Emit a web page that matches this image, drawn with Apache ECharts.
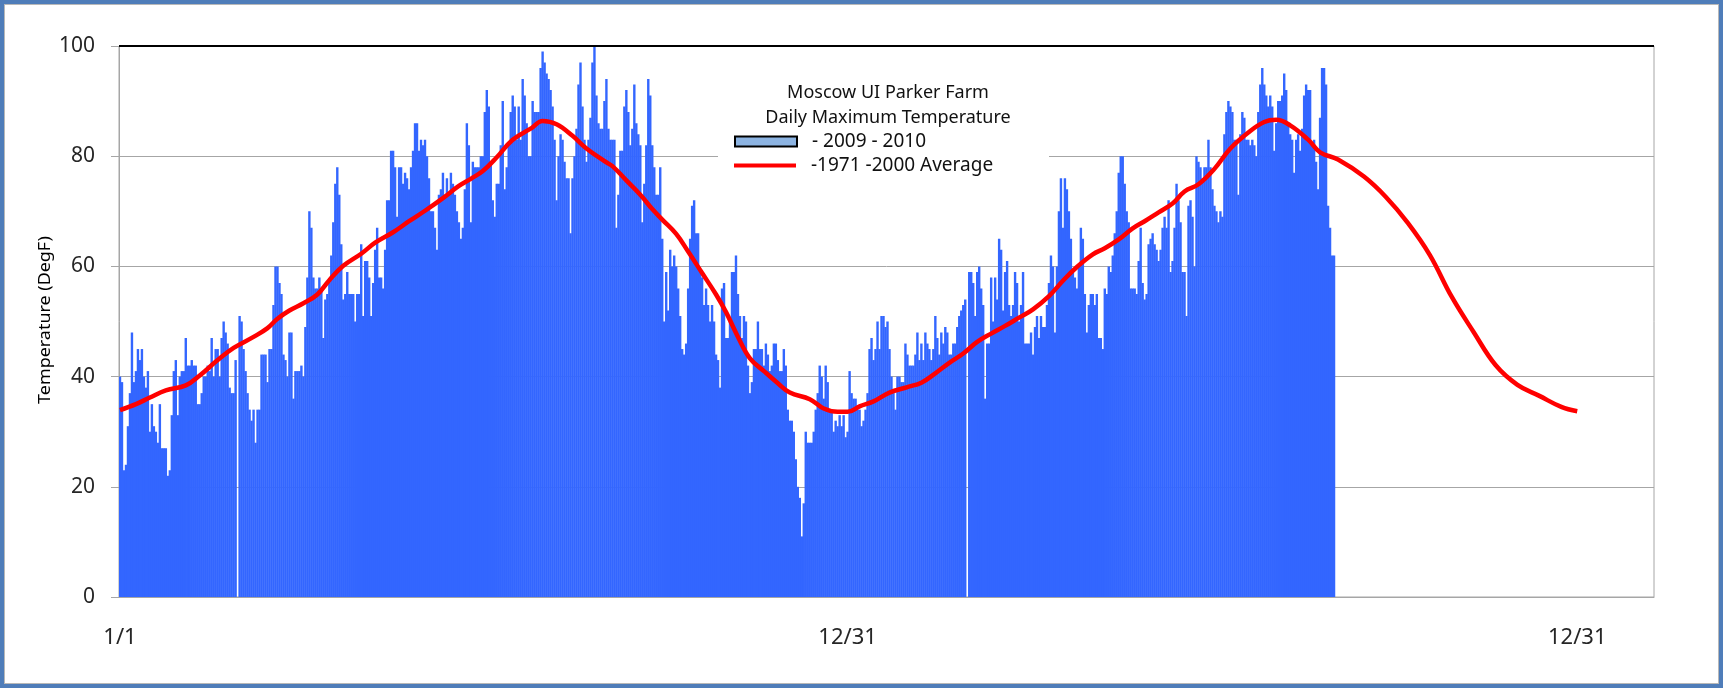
<!DOCTYPE html>
<html>
<head>
<meta charset="utf-8">
<script src="https://cdn.jsdelivr.net/npm/echarts@6/dist/echarts.min.js"></script>
<style>
  body { margin: 0; background: #fff; }
  #chart { width: 1723px; height: 688px; }
  .frame {
    position: absolute; left: 0; top: 0; width: 1723px; height: 688px;
    box-sizing: border-box; border: 4px solid #4f7db9;
    box-shadow: inset 0 0 0 1px #b8b8b8; pointer-events: none;
  }
</style>
</head>
<body>
<div id="chart"></div>
<div class="frame"></div>
<script>
// day slots on the axis (366 per year, Feb 29 left empty)
const dayCount = 770;
const tickIndex = [0, 365, 731];
const tickText = ['1/1', '12/31', '12/31'];

// daily maximum, 2009 (slots 0-365)
const temp2009 = [
  40, 39, 23, 24, 31, 37, 48, 39, 41, 45,
  43, 45, 40, 38, 41, 30, 35, 31, 30, 28,
  35, 27, 27, 27, 22, 23, 33, 41, 43, 33,
  40, 41, 41, 47, 42, 42, 43, 42, 42, 35,
  35, 37, 40, 40, 42, 41, 47, 40, 45, 45,
  40, 47, 50, 48, 46, 38, 37, 37, 43, null,
  51, 50, 45, 41, 37, 34, 32, 34, 28, 34,
  34, 44, 44, 44, 39, 45, 45, 53, 60, 60,
  57, 55, 44, 43, 40, 48, 48, 36, 41, 41,
  41, 42, 40, 49, 58, 70, 67, 58, 56, 56,
  58, 56, 47, 54, 55, 57, 62, 68, 75, 78,
  73, 64, 54, 55, 59, 55, 55, 55, 50, 55,
  55, 64, 51, 61, 61, 58, 51, 57, 63, 67,
  58, 58, 56, 63, 72, 72, 81, 81, 78, 69,
  78, 78, 75, 77, 76, 74, 78, 81, 86, 86,
  81, 83, 82, 83, 80, 76, 70, 70, 67, 63,
  73, 74, 77, 73, 76, 73, 77, 75, 73, 70,
  68, 65, 67, 74, 86, 82, 68, 79, 78, 78,
  78, 80, 80, 88, 92, 89, 79, 72, 69, 75,
  75, 82, 90, 74, 78, 82, 88, 91, 89, 83,
  89, 83, 94, 91, 86, 80, 80, 90, 88, 88,
  88, 96, 99, 97, 95, 94, 92, 89, 83, 72,
  80, 84, 83, 79, 76, 76, 66, 76, 80, 85,
  93, 97, 89, 83, 79, 83, 87, 97, 100, 91,
  86, 85, 85, 90, 94, 85, 83, 83, 83, 67,
  73, 81, 81, 89, 92, 88, 82, 85, 93, 86,
  84, 82, 68, 75, 82, 94, 91, 82, 78, 73,
  73, 78, 65, 50, 59, 52, 63, 60, 62, 60,
  56, 51, 45, 44, 46, 56, 65, 71, 72, 66,
  66, 59, 58, 53, 56, 53, 50, 53, 50, 44,
  43, 38, 56, 57, 47, 47, 50, 59, 59, 62,
  55, 51, 47, 51, 50, 42, 37, 39, 45, 45,
  50, 45, 45, 42, 46, 44, 41, 42, 46, 46,
  43, 41, 41, 45, 42, 34, 32, 32, 30, 25,
  20, 18, 11, 17, 30, 28, 28, 28, 30, 34,
  37, 42, 40, 36, 42, 39, 34, 34, 30, 32,
  31, 33, 31, 33, 29, 30
];

// daily maximum, 2010 (slots 366-609)
const temp2010 = [
  41, 37, 36, 36, 34, 34, 31, 32, 34, 37,
  45, 47, 43, 45, 50, 45, 51, 51, 49, 50,
  45, 40, 37, 34, 40, 40, 39, 39, 46, 44,
  42, 42, 42, 44, 48, 43, 46, 43, 48, 46,
  45, 43, 45, 51, 47, 44, 48, 46, 49, 48,
  44, 44, 46, 46, 49, 51, 52, 53, 54, null,
  59, 59, 57, 51, 59, 60, 56, 53, 36, 46,
  46, 58, 50, 58, 54, 65, 63, 52, 59, 61,
  53, 51, 53, 59, 57, 50, 53, 59, 46, 46,
  46, 48, 44, 49, 51, 47, 51, 49, 49, 53,
  57, 62, 60, 48, 60, 70, 76, 67, 76, 74,
  70, 65, 59, 58, 56, 60, 67, 65, 55, 48,
  53, 55, 55, 53, 55, 47, 47, 45, 56, 55,
  60, 59, 62, 66, 70, 77, 80, 80, 75, 70,
  68, 56, 56, 56, 55, 61, 67, 57, 54, 55,
  64, 65, 66, 64, 63, 61, 63, 67, 69, 67,
  72, 59, 61, 67, 75, 72, 68, 59, 59, 51,
  71, 72, 69, 60, 80, 79, 78, 76, 78, 78,
  83, 78, 74, 71, 70, 68, 70, 69, 84, 88,
  90, 89, 88, 83, 83, 73, 84, 88, 87, 83,
  83, 82, 83, 82, 80, 88, 93, 96, 93, 91,
  89, 91, 89, 81, 86, 90, 90, 91, 95, 92,
  86, 84, 83, 77, 83, 84, 81, 85, 91, 93,
  92, 92, 82, 83, 79, 74, 87, 96, 96, 93,
  71, 67, 62, 62
];

// 1971-2000 average, read at these day slots
const avgDay = [
  0, 8, 15, 23, 33, 40, 49, 57, 67, 74, 79, 85, 92, 99, 105, 112, 121, 128, 137, 145,
  153, 162, 170, 176, 182, 189, 197, 206, 212, 219, 227, 234, 243, 247, 254, 261, 267, 272, 279, 285,
  292, 299, 304, 310, 316, 323, 330, 336, 346, 353, 360, 365,
  371, 378, 386, 395, 402, 409, 416, 423, 430, 437, 444, 451, 458, 466, 473, 480, 488,
  494, 501, 508, 514, 521, 528, 534, 541, 549, 557, 566, 574, 580, 587, 596, 602, 611, 624,
  635, 646, 657, 668, 679, 690, 701, 712, 723, 731
];
const avgTemp = [
  33.9, 35, 36.2, 37.5, 38.4, 40.2, 43, 45.2, 47.2, 48.8, 50.5, 52, 53.3, 54.9, 57.5, 60.1, 62.3, 64.3, 66.2, 68.2,
  70.1, 72.4, 74.6, 75.9, 77.3, 79.8, 83, 85, 86.4, 85.8, 83.7, 81.4, 79.1, 78.2, 75.6, 73, 70.4, 68.5, 65.9, 62.7,
  58.8, 54.9, 51.7, 47.2, 43.3, 41, 38.8, 37.1, 35.9, 34.2, 33.6, 33.6,
  34.6, 35.5, 37.1, 38.1, 38.9, 40.6, 42.5, 44.2, 46.3, 47.8, 49.2, 50.7, 52.2, 54.6, 57.4, 59.9, 62.2,
  63.3, 64.9, 66.9, 68.2, 69.8, 71.4, 73.6, 74.9, 77.7, 81.4, 84.3, 86.2, 86.6, 85.6, 83, 80.7, 79.4, 76.3,
  72.6, 67.9, 62.1, 54.5, 48.1, 42.1, 38.5, 36.5, 34.5, 33.7
];

const days = [];
for (let i = 0; i < dayCount; i++) days.push(String(i));
const maxTemp = temp2009.concat(temp2010);
const avgLine = avgDay.map((d, i) => [d, avgTemp[i]]);

const font = 'Noto Sans';
const chart = echarts.init(document.getElementById('chart'));
chart.setOption({
  animation: false,
  title: {
    text: 'Moscow UI Parker Farm\nDaily Maximum Temperature',
    left: 883,
    top: 75,
    textAlign: 'center',
    textStyle: { fontFamily: font, fontSize: 18, fontWeight: 'normal', color: '#111', lineHeight: 25 }
  },
  legend: [
    {
      left: 734,
      top: 132,
      padding: 0,
      itemWidth: 62,
      itemHeight: 10,
      data: [{ name: '- 2009 - 2010', icon: 'rect', itemStyle: { color: '#8db4e2', borderColor: '#000', borderWidth: 2 } }],
      textStyle: { fontFamily: font, fontSize: 19, color: '#111', padding: [0, 0, 0, 10] }
    },
    {
      left: 734,
      top: 156,
      padding: 0,
      itemWidth: 62,
      itemHeight: 4,
      data: [{ name: '-1971 -2000 Average', icon: 'rect' }],
      textStyle: { fontFamily: font, fontSize: 19, color: '#111', padding: [0, 0, 0, 10] }
    }
  ],
  graphic: [
    { type: 'rect', z: 1, shape: { x: 718, y: 60, width: 331, height: 120 }, style: { fill: '#fff' } },
    {
      // axis title, stretched along its length like the original
      type: 'text',
      x: 45,
      y: 320,
      rotation: Math.PI / 2,
      scaleX: 1.12,
      style: {
        text: 'Temperature (DegF)',
        fontFamily: font,
        fontSize: 16,
        fill: '#000',
        align: 'center',
        verticalAlign: 'middle'
      }
    }
  ],
  grid: { left: 119, right: 69, top: 46, bottom: 91, show: true, borderColor: '#a6a6a6', borderWidth: 1 },
  xAxis: {
    type: 'category',
    data: days,
    boundaryGap: true,
    axisLine: { lineStyle: { color: '#a6a6a6' } },
    axisTick: {
      alignWithLabel: true,
      length: 8,
      interval: (i) => tickIndex.includes(i),
      lineStyle: { color: '#a6a6a6' }
    },
    axisLabel: {
      interval: (i) => tickIndex.includes(i),
      formatter: (v, i) => tickText[tickIndex.indexOf(i)],
      margin: 30,
      fontFamily: font,
      fontSize: 22,
      color: '#262626'
    },
    splitLine: { show: false }
  },
  yAxis: {
    type: 'value',
    min: 0,
    max: 100,
    interval: 20,
    axisLine: { show: true, lineStyle: { color: '#a6a6a6' } },
    axisTick: { show: true, length: 8, lineStyle: { color: '#a6a6a6' } },
    axisLabel: { margin: 24, fontFamily: font, fontSize: 21, color: '#262626' },
    splitLine: { lineStyle: { color: '#a6a6a6' } }
  },
  series: [
    {
      name: '- 2009 - 2010',
      type: 'bar',
      data: maxTemp,
      barWidth: 2.4,
      itemStyle: { color: '#3366ff' }
    },
    {
      name: '-1971 -2000 Average',
      type: 'line',
      data: avgLine,
      smooth: 0.4,
      showSymbol: false,
      z: 3,
      lineStyle: { color: '#ff0000', width: 4.5 },
      itemStyle: { color: '#ff0000' },
      markLine: {
        silent: true,
        symbol: 'none',
        label: { show: false },
        lineStyle: { color: '#000', width: 2, type: 'solid' },
        data: [{ yAxis: 100 }]
      }
    }
  ]
});
</script>
</body>
</html>
